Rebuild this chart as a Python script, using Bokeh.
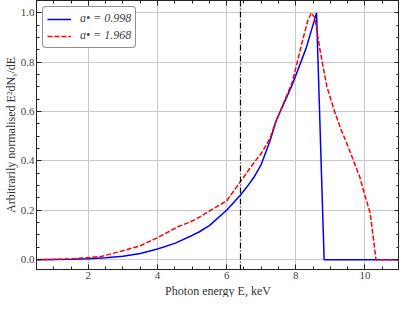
from bokeh.plotting import figure
from bokeh.models import (Span, Legend, LegendItem, LinearAxis, Range1d, Title,
                          SingleIntervalTicker, PrintfTickFormatter,
                          CustomJSTickFormatter)
from bokeh.embed import file_html
from bokeh.resources import INLINE

# ---- data ----
energy_a0998 = [0.5, 1.0, 1.5, 2.0, 2.5, 3.0, 3.5, 4.0, 4.5, 5.0, 5.2, 5.5, 6.0,
                6.4, 6.6, 6.8, 7.0, 7.25, 7.45, 7.6, 7.9, 8.3, 8.6, 8.82, 11.0]
flux_a0998 = [0.0, 0.001, 0.002, 0.004, 0.008, 0.014, 0.025, 0.043, 0.066, 0.098,
              0.112, 0.138, 0.2, 0.262, 0.297, 0.336, 0.385, 0.48, 0.57, 0.615,
              0.71, 0.857, 1.0, 0.0, 0.0]

energy_a1968 = [0.5, 1.0, 1.5, 2.0, 2.4, 2.9, 3.5, 4.0, 4.6, 4.9, 5.1, 5.5, 6.0,
                6.4, 6.8, 7.0, 7.25, 7.4, 7.9, 8.2, 8.35, 8.45, 8.55, 8.7, 8.9,
                9.1, 9.3, 9.45, 9.7, 9.85, 10.0, 10.15, 10.25, 10.32, 11.0]
flux_a1968 = [0.0, 0.001, 0.003, 0.008, 0.014, 0.032, 0.056, 0.089, 0.134, 0.15,
              0.163, 0.197, 0.238, 0.316, 0.395, 0.43, 0.49, 0.55, 0.72, 0.89,
              0.97, 1.0, 0.98, 0.85, 0.7, 0.61, 0.53, 0.48, 0.39, 0.335, 0.26,
              0.19, 0.08, 0.0, 0.0]

fe_line_energy = 6.4
series_labels = ["a\u2022 = 0.998", "a\u2022 = 1.968"]
x_label = "Photon energy E, keV"
y_label = "Arbitrarily normalised E\u00b2dN\u1d67/dE"
x_lo, x_hi = 0.5, 11.0
y_lo, y_hi = -0.04, 1.05

FONT = "Liberation Serif"

p = figure(width=399, height=297, x_range=Range1d(x_lo, x_hi),
           y_range=Range1d(y_lo, y_hi), output_backend="svg",
           toolbar_location=None, min_border_left=0, min_border_right=0,
           min_border_top=0, min_border_bottom=0)

p.border_fill_color = "white"
p.outline_line_color = "#222222"
p.outline_line_width = 1

xt = SingleIntervalTicker(interval=2, num_minor_ticks=4)
yt = SingleIntervalTicker(interval=0.2, num_minor_ticks=4)

def style_axis(ax, ticker, fmt, show_labels):
    ax.ticker = ticker
    ax.formatter = fmt
    ax.axis_line_color = "#222222"
    ax.major_tick_in = 5
    ax.major_tick_out = 0
    ax.minor_tick_in = 3
    ax.minor_tick_out = 0
    ax.major_tick_line_color = "#222222"
    ax.minor_tick_line_color = "#222222"
    ax.major_label_text_font = FONT
    ax.major_label_text_color = "#444444"
    ax.major_label_text_line_height = 1.0
    ax.axis_label_text_font = FONT
    ax.axis_label_text_font_style = "normal"
    ax.axis_label_text_color = "#333333"
    ax.axis_label_text_font_size = "12px"
    ax.axis_label_text_line_height = 1.0
    if show_labels:
        ax.major_label_text_font_size = "11px"
        ax.major_label_standoff = 2
        ax.axis_label_standoff = 0
    else:
        ax.major_label_text_font_size = "0px"
        ax.major_label_standoff = 0

style_axis(p.xaxis[0], xt, PrintfTickFormatter(format="%d"), True)
style_axis(p.yaxis[0], yt, PrintfTickFormatter(format="%.1f"), True)
p.yaxis[0].axis_label = y_label

blank = CustomJSTickFormatter(code="return ''")
top = LinearAxis()
style_axis(top, xt, blank, False)
p.add_layout(top, "above")
right = LinearAxis()
style_axis(right, yt, blank, False)
p.add_layout(right, "right")

p.add_layout(Title(text=x_label, align="center", text_font=FONT,
                   text_font_size="12px", text_font_style="normal",
                   text_color="#333333", standoff=0, offset=0,
                   text_line_height=1.0), "below")

p.xgrid.grid_line_color = "#c8c8c8"
p.ygrid.grid_line_color = "#c8c8c8"

r1 = p.line(energy_a0998, flux_a0998, line_color="#0000ff", line_width=1.5)
r2 = p.line(energy_a1968, flux_a1968, line_color="#ff0000", line_width=1.5,
            line_dash="5 2")

p.add_layout(Span(location=fe_line_energy, dimension="height",
                  line_color="black", line_width=1.2, line_dash="6 2 1 2"))

legend = Legend(items=[LegendItem(label=series_labels[0], renderers=[r1]),
                       LegendItem(label=series_labels[1], renderers=[r2])],
                location="top_left", border_line_color="#222222",
                border_line_width=1, background_fill_alpha=0.9,
                label_text_font=FONT, label_text_font_size="12px",
                label_text_font_style="italic",
                glyph_width=24, glyph_height=12, label_standoff=9,
                padding=4, spacing=2, margin=6, border_radius=4)
p.add_layout(legend)

open("out.html", "w").write(file_html(p, INLINE))
